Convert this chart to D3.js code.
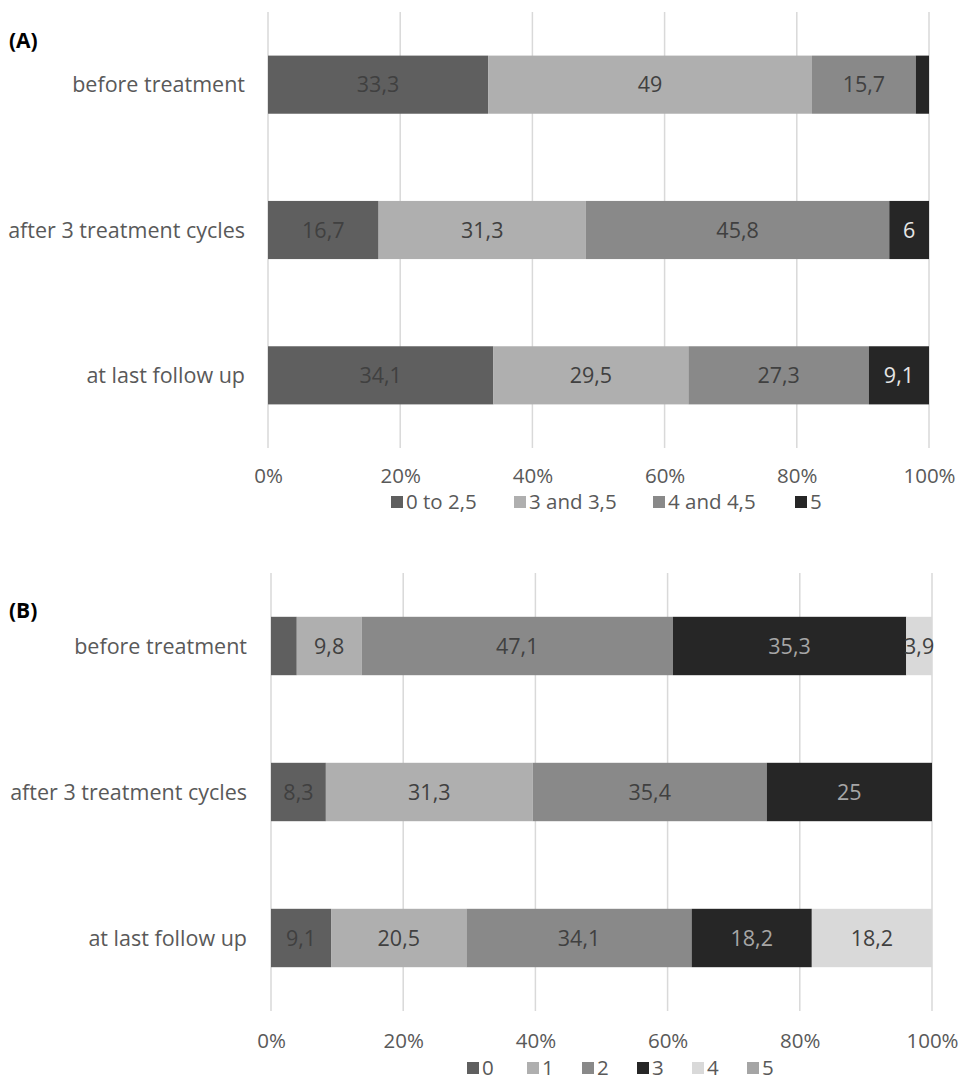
<!DOCTYPE html>
<html>
<head>
<meta charset="utf-8">
<script src="https://cdn.jsdelivr.net/npm/d3@7"></script>
<style>
  body { margin: 0; background: #fff; }
  svg { display: block; }
  text { font-family: "Open Sans", sans-serif; }
</style>
</head>
<body>
<svg id="chart" width="961" height="1082"></svg>
<script>
// ---- Data ----
const categories = ["before treatment", "after 3 treatment cycles", "at last follow up"];
const ticks = [0, 0.2, 0.4, 0.6, 0.8, 1.0];
const tickLabels = ["0%", "20%", "40%", "60%", "80%", "100%"];

// Panel A
const seriesA = ["0 to 2,5", "3 and 3,5", "4 and 4,5", "5"];
const a_0to25   = [33.3, 16.7, 34.1];
const a_3and35  = [49, 31.3, 29.5];
const a_4and45  = [15.7, 45.8, 27.3];
const a_5       = [2.0, 6, 9.1];
const labelsA = [
  ["33,3", "16,7", "34,1"],
  ["49", "31,3", "29,5"],
  ["15,7", "45,8", "27,3"],
  ["", "6", "9,1"]
];

// Panel B
const seriesB = ["0", "1", "2", "3", "4", "5"];
const b_0 = [3.9, 8.3, 9.1];
const b_1 = [9.8, 31.3, 20.5];
const b_2 = [47.1, 35.4, 34.1];
const b_3 = [35.3, 25, 18.2];
const b_4 = [3.9, 0, 18.2];
const b_5 = [0, 0, 0];
const labelsB = [
  ["", "8,3", "9,1"],
  ["9,8", "31,3", "20,5"],
  ["47,1", "35,4", "34,1"],
  ["35,3", "25", "18,2"],
  ["3,9", "", "18,2"],
  ["", "", ""]
];

const colorsA = ["#5f5f5f", "#afafaf", "#898989", "#262626"];
const labelColorsA = ["#404040", "#404040", "#404040", "#e6e6e6"];
const colorsB = ["#5f5f5f", "#afafaf", "#898989", "#262626", "#d9d9d9", "#a5a5a5"];
const labelColorsB = ["#404040", "#404040", "#404040", "#a6a6a6", "#404040", "#404040"];

const svg = d3.select("#chart");

function drawPanel(cfg) {
  const g = svg.append("g");
  const rows = categories.map((c, i) => {
    const r = { cat: c };
    cfg.series.forEach((s, j) => { r[s] = cfg.values[j][i]; });
    return r;
  });
  const stacked = d3.stack().keys(cfg.series).offset(d3.stackOffsetExpand)(rows);

  const x = d3.scaleLinear().domain([0, 1]).range(cfg.xRange);
  const y = d3.scaleBand().domain(categories).range(cfg.yRange).paddingInner(0.6).paddingOuter(0.3);

  // gridlines
  g.selectAll("line.grid").data(ticks).join("line")
    .attr("x1", d => x(d)).attr("x2", d => x(d))
    .attr("y1", cfg.yRange[0]).attr("y2", cfg.yRange[1])
    .attr("stroke", "#d9d9d9").attr("stroke-width", 1.5);

  // bars
  stacked.forEach((layer, j) => {
    g.selectAll(null).data(layer).join("rect")
      .attr("x", d => x(d[0]))
      .attr("width", d => Math.max(0, x(d[1]) - x(d[0])))
      .attr("y", (d, i) => y(categories[i]))
      .attr("height", y.bandwidth())
      .attr("fill", cfg.colors[j]);
  });
  // labels
  stacked.forEach((layer, j) => {
    g.selectAll(null).data(layer).join("text")
      .attr("x", d => (x(d[0]) + x(d[1])) / 2)
      .attr("y", (d, i) => y(categories[i]) + y.bandwidth() / 2)
      .attr("dy", "0.35em")
      .attr("text-anchor", "middle")
      .attr("font-size", 21.5)
      .attr("fill", cfg.labelColors[j])
      .text((d, i) => cfg.labels[j][i]);
  });

  // category axis labels
  g.selectAll("text.cat").data(categories).join("text")
    .attr("class", "cat")
    .attr("x", cfg.catX)
    .attr("y", d => y(d) + y.bandwidth() / 2)
    .attr("dy", "0.35em")
    .attr("text-anchor", "end")
    .attr("font-size", 21.5)
    .attr("fill", "#595959")
    .text(d => d);

  // x axis tick labels
  const axis = d3.axisBottom(x).tickValues(ticks).tickFormat((d, i) => tickLabels[i]).tickSize(0).tickPadding(0);
  const ax = g.append("g").attr("transform", `translate(0,${cfg.tickY})`).call(axis);
  ax.select(".domain").remove();
  ax.selectAll("text").attr("font-size", 20.5).attr("fill", "#595959")
    .attr("font-family", "Open Sans, sans-serif").attr("dy", "0.35em").attr("y", 0);

  // legend
  const leg = g.append("g");
  cfg.series.forEach((s, j) => {
    leg.append("rect").attr("x", cfg.legendX[j]).attr("y", cfg.legendY - 6)
      .attr("width", 12).attr("height", 12).attr("fill", cfg.colors[j]);
    leg.append("text").attr("x", cfg.legendX[j] + 15).attr("y", cfg.legendY)
      .attr("dy", "0.35em").attr("font-size", 20.5).attr("fill", "#595959").text(s);
  });

  // panel letter
  g.append("text").attr("x", 9).attr("y", cfg.letterY).attr("dy", "0.35em")
    .attr("font-family", "Liberation Sans, Arial, sans-serif").attr("font-weight", "bold")
    .attr("font-size", 21).attr("fill", "#000").text(cfg.letter);
}

drawPanel({
  series: seriesA,
  values: [a_0to25, a_3and35, a_4and45, a_5],
  labels: labelsA,
  colors: colorsA,
  labelColors: labelColorsA,
  xRange: [268, 929],
  yRange: [12, 448],
  catX: 245,
  tickY: 476,
  legendX: [391, 514, 653, 795],
  legendY: 502,
  letter: "(A)",
  letterY: 41
});

drawPanel({
  series: seriesB,
  values: [b_0, b_1, b_2, b_3, b_4, b_5],
  labels: labelsB,
  colors: colorsB,
  labelColors: labelColorsB,
  xRange: [271, 932],
  yRange: [573, 1011],
  catX: 247,
  tickY: 1041,
  legendX: [467, 527, 582, 637, 692, 747],
  legendY: 1068,
  letter: "(B)",
  letterY: 611
});
</script>
</body>
</html>
